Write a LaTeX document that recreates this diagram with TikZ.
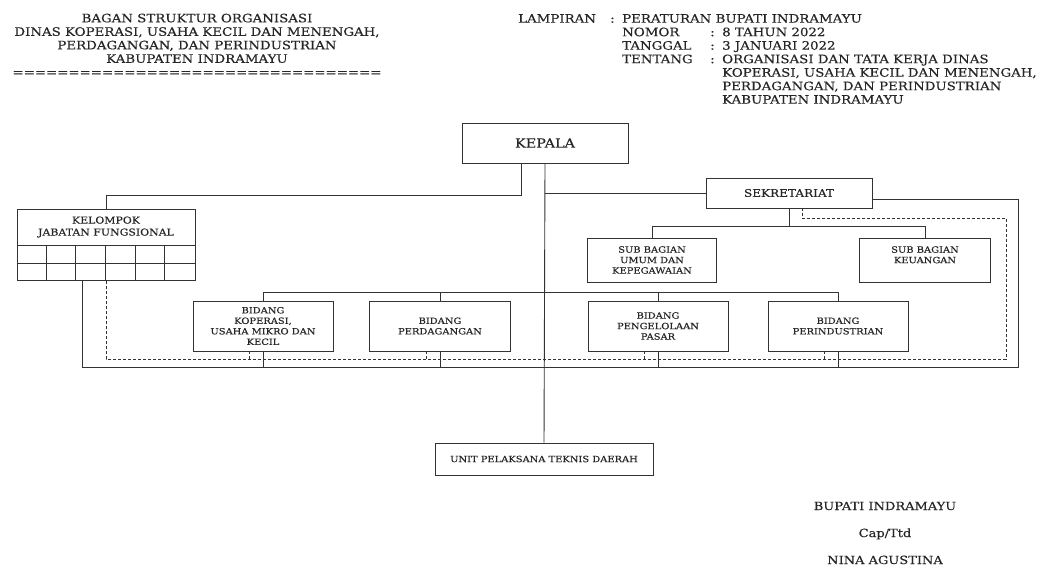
\documentclass[tikz,border=0pt]{standalone}
\usepackage{fontspec}
\setmainfont{DejaVu Serif}[FakeStretch=1.15, FakeBold=0.4]
\usepackage{tikz}

\begin{document}
\begin{tikzpicture}[x=1pt, y=-1pt,
    kotak/.style = {draw=black!80, line width=0.9pt, align=center, text=black!85, inner sep=2pt},
    isi/.style = {font=\fontsize{8.6}{10.5}\selectfont},
    garis/.style = {draw=black!80, line width=0.9pt},
    putus/.style = {garis, dash pattern=on 3pt off 2pt},
    teks/.style = {text=black!85, font=\fontsize{11.6}{13.5}\selectfont, inner sep=0pt}]
    \useasboundingbox (0,0) rectangle (1051,570);

    % judul dan lampiran
    \node[teks, align=center] (judul) at (197,45) {BAGAN STRUKTUR ORGANISASI\\
        DINAS KOPERASI, USAHA KECIL DAN MENENGAH,\\
        PERDAGANGAN, DAN PERINDUSTRIAN\\
        KABUPATEN INDRAMAYU\\
        =================================};
    \node[teks, anchor=north west] (lampiran) at (518,13) {%
        \begin{tabular}{@{}p{92pt}@{}p{12pt}@{}p{88pt}@{}p{12pt}@{}l@{}}
        LAMPIRAN & : & \multicolumn{3}{@{}l@{}}{PERATURAN BUPATI INDRAMAYU}\\
        & & NOMOR & : & 8 TAHUN 2022\\
        & & TANGGAL & : & 3 JANUARI 2022\\
        & & TENTANG & : & ORGANISASI DAN TATA KERJA DINAS\\
        & & & & KOPERASI, USAHA KECIL DAN MENENGAH,\\
        & & & & PERDAGANGAN, DAN PERINDUSTRIAN\\
        & & & & KABUPATEN INDRAMAYU
        \end{tabular}};

    % kotak-kotak
    \node[kotak, minimum width=166, minimum height=40, font=\fontsize{12.5}{14}\selectfont] (kepala) at (545,143) {KEPALA};
    \node[kotak, minimum width=166, minimum height=30, font=\fontsize{10.5}{12}\selectfont] (sekretariat) at (789,193) {SEKRETARIAT};
    \node[kotak, isi, minimum width=129, minimum height=44] (subumum) at (652,260) {SUB BAGIAN\\UMUM DAN\\KEPEGAWAIAN};
    \node[kotak, isi, minimum width=131, minimum height=44] (subkeu) at (925,260) {SUB BAGIAN\\KEUANGAN\\\mbox{}};
    \node[kotak, minimum width=178, minimum height=36, font=\fontsize{9.5}{12}\selectfont] (kelompok) at (106,227) {KELOMPOK\\JABATAN FUNGSIONAL};
    \node[kotak, minimum width=178, minimum height=35, anchor=north] (jfgrid) at (kelompok.south) {};
    \draw[garis] (jfgrid.west) -- (jfgrid.east);
    \foreach \i in {1,...,5}
        \draw[garis] ([xshift=\i*29.67pt]jfgrid.north west) -- ([xshift=\i*29.67pt]jfgrid.south west);
    \node[kotak, isi, minimum width=140, minimum height=50] (bkop) at (263,326) {BIDANG\\KOPERASI,\\USAHA MIKRO DAN\\KECIL};
    \node[kotak, isi, minimum width=141, minimum height=50] (bdag) at (440,326) {BIDANG\\PERDAGANGAN};
    \node[kotak, isi, minimum width=140, minimum height=50] (bpasar) at (658,326) {BIDANG\\PENGELOLAAN\\PASAR};
    \node[kotak, isi, minimum width=140, minimum height=50] (bind) at (838,326) {BIDANG\\PERINDUSTRIAN};
    \node[kotak, isi, minimum width=218, minimum height=32] (uptd) at (544,459) {UNIT PELAKSANA TEKNIS DAERAH};

    % garis komando
    \draw[garis] ([xshift=-24pt]kepala.south) -- ++(0,32) -| (kelompok.north);
    \draw[garis] (kepala.south) -- (uptd.north);
    \draw[garis] (kepala.south |- sekretariat.west) -- (sekretariat.west);
    \draw[garis] (sekretariat.south) -- ++(0,18) -| (subumum.north);
    \draw[garis] (sekretariat.south) ++(0,18) -| (subkeu.north);
    \draw[garis] (bkop.north) -- ++(0,-8) -| (bind.north);
    \draw[garis] (bdag.north) -- ++(0,-8);
    \draw[garis] (bpasar.north) -- ++(0,-8);
    \draw[garis] ([yshift=-6pt]sekretariat.east) -- ++(146,0) -- ++(0,168) -| ([xshift=-24pt]jfgrid.south);
    \foreach \b in {bkop,bdag,bpasar,bind}
        \draw[garis] (\b.south) -- ++(0,16);
    % garis koordinasi
    \draw[putus] ([xshift=13pt]sekretariat.south) -- ++(0,10) -- ++(204,0) -- ++(0,141) -| (jfgrid.south);
    \foreach \b in {bkop,bdag,bpasar,bind}
        \draw[putus] ([xshift=-14pt]\b.south) -- ++(0,8);

    % tanda tangan
    \node[teks, align=center, font=\fontsize{11.3}{27}\selectfont] (ttd) at (885,533) {BUPATI INDRAMAYU\\Cap/Ttd\\NINA AGUSTINA};
\end{tikzpicture}
\end{document}
